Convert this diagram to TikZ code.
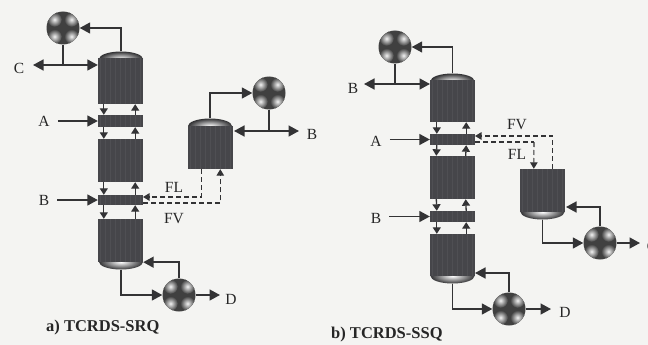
\documentclass[tikz,border=0pt]{standalone}
\usepackage{fontspec}
\setmainfont{Liberation Serif}
\usetikzlibrary{arrows.meta,shapes.geometric}
\definecolor{bgc}{HTML}{F4F4F2}
\definecolor{ink}{HTML}{333335}
\definecolor{colfill}{HTML}{46464A}
\definecolor{stripe}{HTML}{4F4F53}
\tikzset{
 conn/.style={draw=ink,line width=1.5pt,-{Triangle[length=10.5pt,width=11pt]}},
 twoway/.style={draw=ink,line width=1.5pt,{Triangle[length=10.5pt,width=11pt]}-{Triangle[length=10.5pt,width=11pt]}},
 plainline/.style={draw=ink,line width=1.5pt},
 shortarr/.style={draw=ink,line width=1.3pt,-{Triangle[length=6.5pt,width=8pt]}},
 dconn/.style={draw=ink,line width=1.1pt,dash pattern=on 5pt off 3pt,-{Triangle[length=6.5pt,width=7.5pt]}},
 dline/.style={draw=ink,line width=1.1pt,dash pattern=on 5pt off 3pt},
 dtip/.style={draw=ink,line width=1.1pt,-{Triangle[length=6.5pt,width=7.5pt]}},
 colbox/.style={rectangle,fill=colfill,inner sep=0pt,minimum width=45pt,
   path picture={\foreach \i in {-20,-15,...,20}{\draw[stripe,line width=0.5pt]
     ([xshift=\i pt]path picture bounding box.south) -- ([xshift=\i pt]path picture bounding box.north);}}},
 lab/.style={font=\fontsize{15.5}{15.5}\selectfont,text=black!85,inner sep=0pt},
 ttl/.style={font=\fontsize{16.5}{16.5}\selectfont\bfseries,text=black!85,inner sep=0pt,anchor=west},
 hxc/.style={circle,minimum size=33pt,inner sep=0pt,fill=black!75},
 endcap/.style={ellipse,inner sep=0pt,minimum width=44pt,minimum height=15pt,
   inner color=white,outer color=ink},
}
\newcommand{\hxdraw}[2]{%
 \node[hxc] (#1) at #2 {};
 \begin{scope}[shift={#2}]
  \clip (0,0) circle (16.5pt);
  \foreach \sx/\sy in {-8.5/-8.5,8.5/-8.5,-8.5/8.5,8.5/8.5}{%
    \shade[inner color=white!95!black,outer color=black!75] (\sx,\sy) circle (7.3pt);}
 \end{scope}}
\begin{document}
\begin{tikzpicture}[x=1pt,y=-1pt]
\useasboundingbox (0,0) rectangle (648,345);
\fill[bgc] (0,0) rectangle (648,345);
% ---- panel a
\node[endcap] (capA1) at (121,59) {};
\node[endcap] (capA3) at (121,262) {};
\node[endcap] (capS) at (210,126) {};
\node[colbox,minimum height=46pt] (a1) at (120.5,81) {};
\node[colbox,minimum height=12pt] (afa) at (120.5,121) {};
\node[colbox,minimum height=43pt] (a2) at (120.5,160.5) {};
\node[colbox,minimum height=10pt] (afb) at (120.5,200) {};
\node[colbox,minimum height=43pt] (a3) at (120.5,240.5) {};
\node[colbox,minimum height=43pt] (as) at (210,147.5) {};
\hxdraw{ca}{(63,28)}
\hxdraw{ra}{(179,295)}
\hxdraw{cs}{(269,93)}
\node[lab] (lC) at (19,68) {C};
\node[lab] (lA) at (44,121) {A};
\node[lab] (lB) at (44,200) {B};
\node[lab] (lB2) at (312,134) {B};
\node[lab] (lD) at (231,299) {D};
\node[lab] (lFL) at (174,187) {FL};
\node[lab] (lFV) at (174,219) {FV};
\node[ttl] (ta) at (46,328) {a) TCRDS-SRQ};
\coordinate (j1) at (63,65);
\coordinate (j2) at (269,131);
\draw[conn] (capA1.north) |- (ca.east);
\draw[plainline] (ca.south) -- (j1);
\draw[twoway] (33,65) -- (a1.north west |- j1);
\draw[conn] ([xshift=8pt]lA.east |- afa.west) -- (afa.west);
\draw[conn] ([xshift=8pt]lB.east |- afb.west) -- (afb.west);
\foreach \p/\q in {a1/afa,afa/a2,a2/afb,afb/a3}{
 \draw[shortarr] ([xshift=6pt]\p.south west) -- ([xshift=6pt]\q.north west);
 \draw[shortarr] ([xshift=-8pt]\q.north east) -- ([xshift=-8pt]\p.south east);
}
\draw[conn] (capA3.south) |- (ra.west);
\draw[conn] (ra.north) |- (a3.south east);
\draw[conn] (ra.east) -- (220,295);
\draw[conn] (capS.north) |- (cs.west);
\draw[plainline] (cs.south) -- (j2);
\draw[twoway] (234,131) -- (299,131);
\draw[dline] ([xshift=14pt]as.south west) |- (146,197);
\draw[dtip] (150,197) -- (143,197);
\draw[dconn] (143,203) -| ([xshift=33pt]as.south west);
% ---- panel b
\node[endcap] (capB1) at (452.5,81) {};
\node[endcap] (capB3) at (452.5,276) {};
\node[endcap] (capT) at (542.5,212) {};
\node[colbox,minimum height=42pt] (b1) at (452.5,101) {};
\node[colbox,minimum height=11pt] (bfa) at (452.5,139.5) {};
\node[colbox,minimum height=43pt] (b2) at (452,177.5) {};
\node[colbox,minimum height=11pt] (bfb) at (452.5,216.5) {};
\node[colbox,minimum height=42pt] (b3) at (452.5,255) {};
\node[colbox,minimum height=43pt] (bs) at (542.5,190.5) {};
\hxdraw{cb}{(395,47)}
\hxdraw{rb}{(509,309)}
\hxdraw{rs}{(600,243)}
\node[lab] (mB) at (353,88) {B};
\node[lab] (mA) at (376,141) {A};
\node[lab] (mB2) at (376,218) {B};
\node[lab] (mD) at (565,312) {D};
\node[lab] (mC) at (652,246) {C};
\node[lab] (mFV) at (517,125) {FV};
\node[lab] (mFL) at (517,154) {FL};
\node[ttl] (tb) at (331,335) {b) TCRDS-SSQ};
\coordinate (k1) at (395,84);
\draw[conn] (capB1.north) |- (cb.east);
\draw[plainline] (cb.south) -- (k1);
\draw[twoway] (364,84) -- (430,84);
\draw[conn] ([xshift=8pt]mA.east |- bfa.west) -- (bfa.west);
\draw[conn] ([xshift=8pt]mB2.east |- bfb.west) -- (bfb.west);
\foreach \p/\q in {b1/bfa,bfa/b2,b2/bfb,bfb/b3}{
 \draw[shortarr] ([xshift=7pt]\p.south west) -- ([xshift=7pt]\q.north west);
 \draw[shortarr] ([xshift=-9pt]\q.north east) -- ([xshift=-9pt]\p.south east);
}
\draw[conn] (capB3.south) |- (rb.west);
\draw[conn] (rb.north) |- (475,273);
\draw[conn] (rb.east) -- (551,309);
\draw[conn] (capT.south) |- (rs.west);
\draw[conn] (rs.north) |- (566,207);
\draw[conn] (rs.east) -- (640,243);
\draw[dline] ([xshift=33pt]bs.north west) |- (482,136);
\draw[dtip] (482,136) -- (475,136);
\draw[dline] (475,142) -- (534,142);
\draw[dconn] (534,142) -- ([xshift=14pt]bs.north west);
\end{tikzpicture}
\end{document}
